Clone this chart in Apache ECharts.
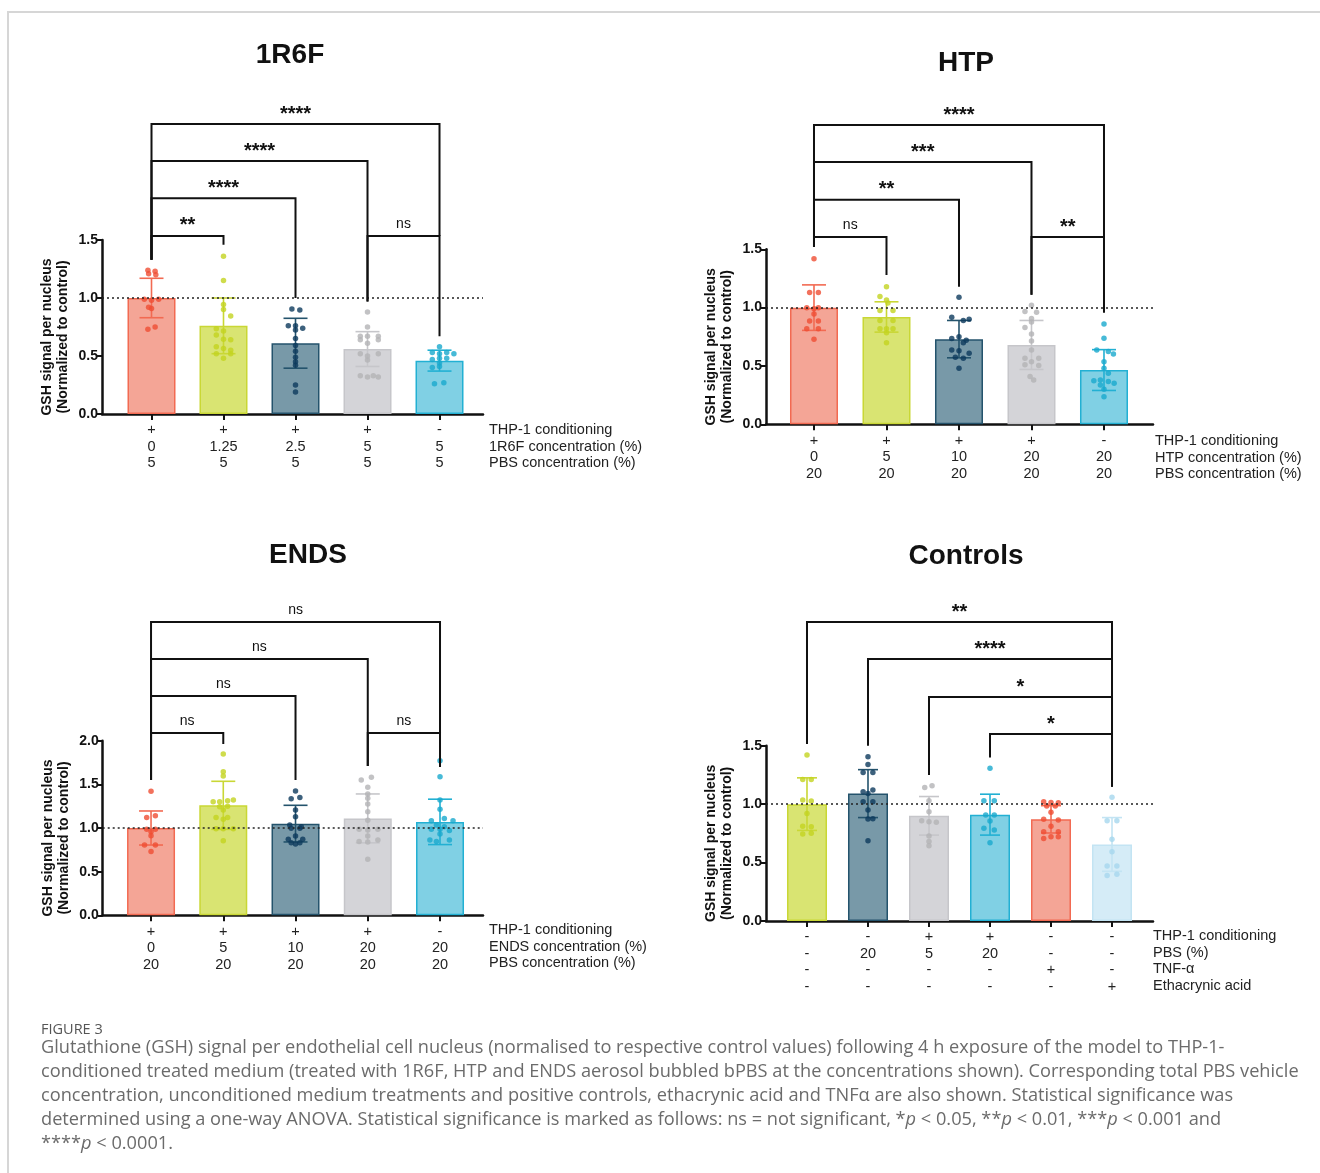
<!DOCTYPE html>
<html><head><meta charset="utf-8">
<script src="https://cdn.jsdelivr.net/npm/echarts@6/dist/echarts.min.js"></script>
<style>html,body{margin:0;padding:0;background:#fff}#c{width:1320px;height:1173px}</style>
</head><body><div id="c"></div>
<script>
// ---------------- DATA ----------------
// 1R6F
const r6fTitle = '1R6F';
const r6fLabels = [['+','0','5'],['+','1.25','5'],['+','2.5','5'],['+','5','5'],['-','5','5']];
const r6fRowNames = ['THP-1 conditioning','1R6F concentration (%)','PBS concentration (%)'];
const r6fMeans = [1.00, 0.76, 0.61, 0.56, 0.46];
const r6fSD = [0.17, 0.24, 0.215, 0.15, 0.09];
const r6fPoints = [
  [[-0.05,1.24],[0.05,1.23],[-0.04,1.21],[0.06,1.20],[-0.1,0.99],[0,0.98],[0.1,0.99],[0,0.91],[-0.04,0.92],[0.05,0.75],[-0.05,0.73]],
  [[0,1.36],[0,1.15],[0,0.945],[0,0.90],[0.1,0.845],[-0.1,0.735],[0,0.715],[-0.1,0.68],[0,0.645],[0.1,0.64],[-0.1,0.58],[0,0.565],[0.1,0.55],[-0.1,0.52],[0,0.48],[0.1,0.52]],
  [[-0.05,0.905],[0.06,0.897],[-0.1,0.76],[0,0.76],[0.1,0.74],[0,0.725],[0,0.65],[0,0.59],[0,0.54],[0,0.49],[0,0.45],[0,0.42],[0,0.25],[0,0.19]],
  [[0,0.88],[0,0.75],[-0.1,0.67],[0,0.67],[0.15,0.67],[-0.1,0.64],[0.15,0.64],[0,0.61],[-0.1,0.52],[0,0.50],[0.15,0.52],[0,0.465],[-0.1,0.33],[0,0.32],[0.08,0.33],[0.15,0.32]],
  [[0,0.58],[-0.1,0.53],[0,0.52],[0.1,0.53],[0.2,0.52],[-0.1,0.47],[0,0.48],[0.1,0.48],[0,0.44],[-0.1,0.40],[0,0.41],[-0.07,0.26],[0.06,0.27]]
];
// [from, to, top, leftEnd, rightEnd]
const r6fBrackets = [[0,4,2.50,1.33,1.535],[0,3,2.18,1.33,0.97],[0,2,1.86,1.33,1.0],[0,1,1.535,1.33,1.46],[3,4,1.535,0.97,0.67]];
const r6fStars = ['****','****','****','**','ns'];

// HTP
const htpTitle = 'HTP';
const htpLabels = [['+','0','20'],['+','5','20'],['+','10','20'],['+','20','20'],['-','20','20']];
const htpRowNames = ['THP-1 conditioning','HTP concentration (%)','PBS concentration (%)'];
const htpMeans = [1.00, 0.92, 0.73, 0.68, 0.465];
const htpSD = [0.195, 0.13, 0.16, 0.21, 0.175];
const htpPoints = [
  [[0,1.42],[-0.06,1.13],[0.06,1.13],[-0.1,1.0],[0,0.99],[0.06,1.0],[0,0.945],[-0.06,0.885],[0.06,0.885],[-0.1,0.82],[0.06,0.82],[0,0.73]],
  [[0,1.18],[-0.09,1.095],[0,1.065],[0.02,1.04],[-0.09,0.975],[0.09,0.975],[-0.09,0.89],[0.09,0.89],[-0.09,0.82],[0,0.82],[0.09,0.82],[0,0.785],[0,0.70]],
  [[0,1.09],[-0.1,0.917],[0.14,0.90],[0.06,0.89],[-0.1,0.735],[0,0.75],[0.1,0.72],[0.06,0.70],[-0.1,0.637],[0,0.63],[0.14,0.61],[-0.05,0.574],[0.06,0.566],[0,0.48]],
  [[0,1.02],[-0.09,0.966],[0.07,0.96],[0,0.906],[0,0.877],[-0.09,0.83],[0,0.774],[0,0.714],[0,0.637],[-0.09,0.566],[0.1,0.566],[0,0.537],[-0.09,0.51],[0.1,0.503],[-0.02,0.41],[0.03,0.38]],
  [[0,0.86],[0,0.737],[-0.1,0.637],[0.06,0.623],[0.13,0.603],[0,0.537],[0,0.48],[0.06,0.437],[-0.14,0.374],[-0.05,0.38],[0.06,0.366],[0.14,0.351],[-0.05,0.337],[0,0.30],[0,0.237]]
];
const htpBrackets = [[0,4,2.565,1.52,1.605],[0,3,2.248,1.52,1.11],[0,2,1.925,1.52,1.18],[0,1,1.605,1.52,1.28],[3,4,1.605,1.11,0.956]];
const htpStars = ['****','***','**','ns','**'];

// ENDS
const endsTitle = 'ENDS';
const endsLabels = [['+','0','20'],['+','5','20'],['+','10','20'],['+','20','20'],['-','20','20']];
const endsRowNames = ['THP-1 conditioning','ENDS concentration (%)','PBS concentration (%)'];
const endsMeans = [1.00, 1.26, 1.05, 1.11, 1.07];
const endsSD = [0.195, 0.275, 0.21, 0.28, 0.26];
const endsPoints = [
  [[0,1.42],[-0.06,1.12],[0.06,1.14],[-0.06,0.985],[0,0.958],[0.06,0.985],[0,0.91],[-0.09,0.805],[0.06,0.805],[0,0.73]],
  [[0,1.847],[0,1.645],[0,1.595],[-0.14,1.30],[-0.05,1.30],[0.06,1.313],[0.14,1.32],[-0.05,1.244],[0.06,1.25],[0,1.206],[-0.1,1.12],[0.06,1.12],[0,1.10],[-0.1,0.99],[0,0.99],[0.14,0.99],[0,0.855]],
  [[0,1.424],[-0.06,1.336],[0.06,1.35],[0,1.206],[0,1.13],[-0.08,1.034],[0.08,1.015],[-0.06,0.996],[0.06,0.996],[0,0.908],[-0.1,0.87],[0.1,0.87],[-0.06,0.832],[0.06,0.832],[0,0.816]],
  [[-0.09,1.55],[0.05,1.58],[0,1.466],[0,1.39],[0,1.34],[0,1.275],[0,1.187],[0,1.09],[-0.12,0.985],[0,0.977],[0.14,0.985],[0,0.908],[0.14,0.863],[-0.12,0.844],[0,0.84],[0,0.641]],
  [[0,1.77],[0,1.588],[0,1.32],[0,1.214],[-0.12,1.084],[0.06,1.11],[0.18,1.084],[-0.05,1.034],[0.06,1.015],[-0.12,0.985],[0,0.985],[0,0.931],[0.13,0.97],[-0.14,0.863],[-0.05,0.844],[0.13,0.863]]
];
const endsBrackets = [[0,4,3.36,1.55,2.089],[0,3,2.936,1.55,1.71],[0,2,2.512,1.55,1.55],[0,1,2.089,1.55,1.963],[3,4,2.089,1.71,1.70]];
const endsStars = ['ns','ns','ns','ns','ns'];

// Controls
const ctrlTitle = 'Controls';
const ctrlLabels = [['-','-','-','-'],['-','20','-','-'],['+','5','-','-'],['+','20','-','-'],['-','-','+','-'],['-','-','-','+']];
const ctrlRowNames = ['THP-1 conditioning','PBS (%)','TNF-\u03b1','Ethacrynic acid'];
const ctrlMeans = [1.00, 1.09, 0.90, 0.91, 0.87, 0.655];
const ctrlSD = [0.225, 0.205, 0.165, 0.175, 0.117, 0.23];
const ctrlPoints = [
  [[0,1.42],[-0.07,1.21],[0.07,1.21],[-0.07,1.035],[0.07,1.027],[0,0.92],[-0.07,0.81],[0.07,0.807],[-0.07,0.744],[0.07,0.75]],
  [[0,1.406],[0,1.34],[-0.08,1.27],[0.08,1.27],[-0.08,1.106],[0.08,1.12],[0,1.09],[-0.08,1.02],[0.08,1.02],[0,0.95],[0,0.873],[0.08,0.875],[0,0.687]],
  [[-0.07,1.143],[0.05,1.158],[0,1.03],[0,0.935],[-0.12,0.858],[0.12,0.844],[0,0.85],[0,0.727],[0,0.68],[0,0.644]],
  [[0,1.306],[-0.1,1.03],[0.07,1.03],[-0.07,0.907],[0.07,0.907],[0,0.855],[-0.1,0.793],[0.07,0.778],[0,0.67]],
  [[-0.12,1.02],[0,1.015],[0.12,1.012],[-0.07,0.984],[0.07,0.984],[0,0.93],[-0.12,0.87],[0.12,0.864],[0,0.81],[-0.12,0.764],[0.12,0.764],[-0.12,0.707],[0,0.72],[0.12,0.72]],
  [[0,1.058],[-0.08,0.858],[0.08,0.858],[0,0.70],[0,0.593],[-0.08,0.47],[0.08,0.47],[-0.08,0.39],[0.08,0.40]]
];
const ctrlBrackets = [[0,5,2.558,1.514,1.15],[1,5,2.241,1.50,1.15],[2,5,1.916,1.25,1.15],[3,5,1.60,1.40,1.15]];
const ctrlStars = ['**','****','*','*'];

const yAxisName = 'GSH signal per nucleus\n(Normalized to control)';
const figureLabel = 'FIGURE 3';

// ---------------- STYLE / LAYOUT ----------------
const palette = {
  salmon: {fill:'#f4a596', edge:'#f26a52', dot:'#ef4e33'},
  lime:   {fill:'#d9e472', edge:'#c9d735', dot:'#c3d31f'},
  teal:   {fill:'#7899a8', edge:'#24536c', dot:'#0c3a5c'},
  grey:   {fill:'#d4d4d8', edge:'#c6c6ca', dot:'#b3b3b5'},
  cyan:   {fill:'#80d0e4', edge:'#22b0d3', dot:'#19a9cd'},
  pale:   {fill:'#d5ecf7', edge:'#c3e4f3', dot:'#a6d7ed'}
};
const FONT = '"Liberation Sans", Arial, Helvetica, sans-serif';

const panels = [
  {title:r6fTitle, labels:r6fLabels, rows:r6fRowNames, means:r6fMeans, sd:r6fSD, points:r6fPoints, brackets:r6fBrackets, stars:r6fStars,
   colors:['salmon','lime','teal','grey','cyan'], grid:{left:102, top:240, width:381, height:174}, xMin:-0.6875, xMax:4.604, yMax:1.5,
   barW:48, cap:12, titleXY:[290,55], rowsXY:[489,430]},
  {title:htpTitle, labels:htpLabels, rows:htpRowNames, means:htpMeans, sd:htpSD, points:htpPoints, brackets:htpBrackets, stars:htpStars,
   colors:['salmon','lime','teal','grey','cyan'], grid:{left:766, top:249.3, width:387, height:175}, xMin:-0.662, xMax:4.676, yMax:1.5,
   barW:48, cap:12, titleXY:[966,63], rowsXY:[1155,441]},
  {title:endsTitle, labels:endsLabels, rows:endsRowNames, means:endsMeans, sd:endsSD, points:endsPoints, brackets:endsBrackets, stars:endsStars,
   colors:['salmon','lime','teal','grey','cyan'], grid:{left:102.7, top:740.7, width:380.3, height:174.6}, xMin:-0.669, xMax:4.595, yMax:2.0,
   barW:48, cap:12, titleXY:[308,555], rowsXY:[489,930]},
  {title:ctrlTitle, labels:ctrlLabels, rows:ctrlRowNames, means:ctrlMeans, sd:ctrlSD, points:ctrlPoints, brackets:ctrlBrackets, stars:ctrlStars,
   colors:['lime','teal','grey','cyan','salmon','pale'], grid:{left:766, top:745.7, width:387, height:175.3}, xMin:-0.672, xMax:5.672, yMax:1.5,
   barW:40, cap:10, titleXY:[966,556], rowsXY:[1153,936]}
];

// ---------------- BUILD ----------------
const chart = echarts.init(document.getElementById('c'), null, {renderer:'canvas'});
const grids = [], xAxes = [], yAxes = [], series = [], graphics = [];

panels.forEach((p, pi) => {
  grids.push(Object.assign({containLabel:false}, p.grid));
  const idx = p.labels.map((_, i) => i);
  xAxes.push({
    type:'value', gridIndex:pi, min:p.xMin, max:p.xMax,
    axisLine:{show:true, onZero:false, lineStyle:{color:'#111', width:2.5}},
    axisTick:{show:true, customValues:idx, length:6, lineStyle:{color:'#111', width:2}},
    axisLabel:{show:true, customValues:idx, formatter:(v) => p.labels[Math.round(v)].join('\n'),
      margin:8, lineHeight:16.5, fontSize:14.5, color:'#222', fontFamily:FONT},
    splitLine:{show:false}
  });
  yAxes.push({
    type:'value', gridIndex:pi, min:0, max:p.yMax, interval:0.5,
    axisLine:{show:true, onZero:false, lineStyle:{color:'#111', width:2.5}},
    axisTick:{show:true, length:5, lineStyle:{color:'#111', width:2}},
    axisLabel:{formatter:(v) => v.toFixed(1), fontWeight:'bold', fontSize:14, margin:4, color:'#111', fontFamily:FONT},
    splitLine:{show:false},
    name:yAxisName, nameLocation:'middle', nameRotate:90, nameGap:31,
    nameTextStyle:{fontWeight:'bold', fontSize:14, lineHeight:16, color:'#111', fontFamily:FONT, padding:[0,0,0,-20]}
  });
  // bars
  series.push({
    type:'bar', xAxisIndex:pi, yAxisIndex:pi, barWidth:p.barW, silent:true, animation:false, z:2,
    data:p.means.map((m, i) => ({value:[i, m], itemStyle:{color:palette[p.colors[i]].fill,
      borderColor:palette[p.colors[i]].edge, borderWidth:1.5}})),
    markLine:{silent:true, animation:false, symbol:['none','none'], label:{show:false},
      lineStyle:{type:[2,3], color:'#222', width:1.6}, data:[{yAxis:1}]}
  });
  // error bars
  series.push({
    type:'custom', xAxisIndex:pi, yAxisIndex:pi, silent:true, animation:false, clip:false, z:3,
    data:p.means.map((m, i) => [i, m, p.sd[i]]),
    renderItem:(params, api) => {
      const x = api.value(0), m = api.value(1), s = api.value(2);
      const c = palette[p.colors[params.dataIndex]].edge;
      const t = api.coord([x, m + s]), b = api.coord([x, m - s]);
      const st = {stroke:c, lineWidth:1.6};
      return {type:'group', children:[
        {type:'line', shape:{x1:t[0], y1:t[1], x2:b[0], y2:b[1]}, style:st},
        {type:'line', shape:{x1:t[0]-p.cap, y1:t[1], x2:t[0]+p.cap, y2:t[1]}, style:st},
        {type:'line', shape:{x1:b[0]-p.cap, y1:b[1], x2:b[0]+p.cap, y2:b[1]}, style:st}
      ]};
    }
  });
  // points
  const pts = [];
  p.points.forEach((grp, i) => grp.forEach(([dx, y]) => pts.push({value:[i + dx, y], itemStyle:{color:palette[p.colors[i]].dot}})));
  series.push({type:'scatter', xAxisIndex:pi, yAxisIndex:pi, symbolSize:5.5, silent:true, animation:false, z:4, data:pts});
  // significance brackets
  series.push({
    type:'custom', xAxisIndex:pi, yAxisIndex:pi, silent:true, animation:false, clip:false, z:5,
    data:p.brackets,
    renderItem:(params, api) => {
      const x0 = api.value(0), x1 = api.value(1), top = api.value(2), yl = api.value(3), yr = api.value(4);
      const a = api.coord([x0, yl]), b = api.coord([x0, top]), c = api.coord([x1, top]), d = api.coord([x1, yr]);
      const txt = p.stars[params.dataIndex];
      const isNs = txt === 'ns';
      return {type:'group', children:[
        {type:'polyline', shape:{points:[a, b, c, d]}, style:{stroke:'#111', lineWidth:2, fill:null}},
        {type:'text', x:(b[0] + c[0]) / 2, y:b[1] - (isNs ? 5 : 0),
          style:{text:txt, align:'center', verticalAlign:'bottom', fontSize:isNs ? 14 : 20,
            fontWeight:isNs ? 'normal' : 'bold', fontFamily:FONT, fill:'#111'}}
      ]};
    }
  });
  // title
  graphics.push({type:'text', x:p.titleXY[0], y:p.titleXY[1],
    style:{text:p.title, align:'center', verticalAlign:'middle', fontSize:28, fontWeight:'bold', fontFamily:FONT, fill:'#111'}});
  // row names
  graphics.push({type:'text', x:p.rowsXY[0], y:p.rowsXY[1] - 8.25,
    style:{text:p.rows.join('\n'), align:'left', verticalAlign:'top', lineHeight:16.5, fontSize:14.5, fontFamily:FONT, fill:'#222'}});
});

// frame lines
graphics.push({type:'polyline', shape:{points:[[8,1173],[8,12],[1320,12]]}, style:{stroke:'#d6d6d6', lineWidth:2, fill:null}});

// caption
const CAP = '"Open Sans", "Noto Sans", sans-serif';
const capColor = '#6b6b6b';
const capSize = 18.2;
graphics.push({type:'text', x:41, y:1030, style:{text:figureLabel, verticalAlign:'middle', fontSize:14.5, fontFamily:CAP, fill:'#555'}});
const capRich = {n:{fontSize:capSize, fontFamily:CAP, fill:capColor}, i:{fontSize:capSize, fontFamily:CAP, fill:capColor, fontStyle:'italic'}};
const capLines = [
  '{n|Glutathione (GSH) signal per endothelial cell nucleus (normalised to respective control values) following 4 h exposure of the model to THP-1-}',
  '{n|conditioned treated medium (treated with 1R6F, HTP and ENDS aerosol bubbled bPBS at the concentrations shown). Corresponding total PBS vehicle}',
  '{n|concentration, unconditioned medium treatments and positive controls, ethacrynic acid and TNF\u03b1 are also shown. Statistical significance was}',
  '{n|determined using a one-way ANOVA. Statistical significance is marked as follows: ns = not significant, *}{i|p}{n| < 0.05, **}{i|p}{n| < 0.01, ***}{i|p}{n| < 0.001 and}',
  '{n|****}{i|p}{n| < 0.0001.}'
];
capLines.forEach((t, k) => {
  graphics.push({type:'text', x:41, y:1048 + 24 * k, style:{text:t, rich:capRich, verticalAlign:'middle', fontSize:capSize, fontFamily:CAP, fill:capColor}});
});

chart.setOption({
  animation:false,
  backgroundColor:'#ffffff',
  grid:grids, xAxis:xAxes, yAxis:yAxes, series:series,
  graphic:{elements:graphics}
});
</script></body></html>
